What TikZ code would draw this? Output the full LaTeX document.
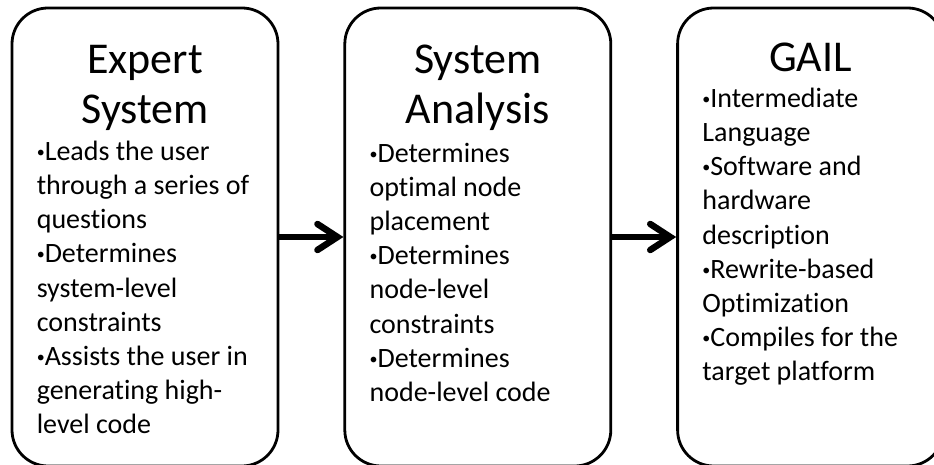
\documentclass[tikz,border=0pt]{standalone}
\usepackage{fontspec}
\setmainfont{Carlito}[Ligatures=NoCommon]
\usetikzlibrary{positioning, arrows.meta}
\newcommand{\itm}{\raisebox{3pt}{\fontsize{16}{0}\selectfont •}}

\begin{document}
\begin{tikzpicture}[
    x=1pt, y=1pt,
    stage/.style={rectangle, rounded corners=36pt, draw, line width=2.8pt, minimum width=266pt, minimum height=458pt, inner sep=0pt},
    title/.style={align=center, inner sep=0pt, font=\fontsize{44}{50}\selectfont},
    points/.style={align=left, inner sep=0pt, font=\fontsize{28}{34.2}\selectfont},
    flow/.style={line width=6.5pt, -{Straight Barb[length=20pt, width=26pt, line cap=round]}}
]
\useasboundingbox (0,0) rectangle (934,464);
\clip (0,0) rectangle (934,464);

\node[stage] (es) at (145,227) {};
    \node[stage, right=64pt of es] (sa) {};
    \node[stage, right=64pt of sa] (gail) {};

\node[title, anchor=north] (es title) at ([yshift=-38pt]es.north) {Expert\\System};
    \node[title, anchor=north] (sa title) at ([yshift=-38pt]sa.north) {System\\Analysis};
    \node[title, anchor=north] (gail title) at ([yshift=-36pt]gail.north) {GAIL};

\node[points, anchor=north west] (es text) at ([xshift=26pt, yshift=-134pt]es.north west)
        {\itm Leads the user\\through a series of\\questions\\\itm Determines\\system-level\\constraints\\\itm Assists the user in\\generating high-\\level code};
    \node[points, anchor=north west] (sa text) at ([xshift=26pt, yshift=-136pt]sa.north west)
        {\itm Determines\\optimal node\\placement\\\itm Determines\\node-level\\constraints\\\itm Determines\\node-level code};
    \node[points, anchor=north west] (gail text) at ([xshift=26pt, yshift=-81pt]gail.north west)
        {\itm Intermediate\\Language\\\itm Software and\\hardware\\description\\\itm Rewrite-based\\Optimization\\\itm Compiles for the\\target platform};

\draw[flow] (es) -- (sa);
    \draw[flow] (sa) -- (gail);
\end{tikzpicture}
\end{document}
